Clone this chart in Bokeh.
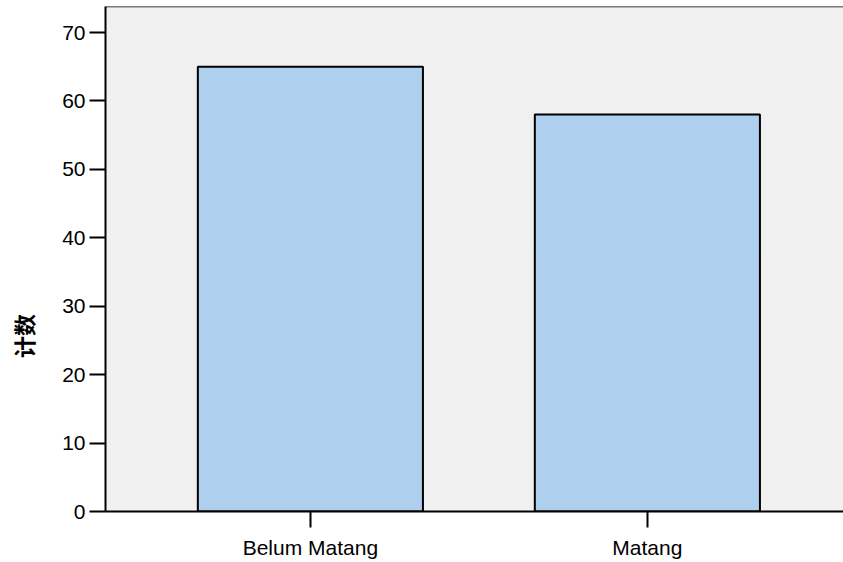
import math
from bokeh.plotting import figure
from bokeh.models import FixedTicker, Span
from bokeh.embed import file_html
from bokeh.resources import INLINE

categories = ["Belum Matang", "Matang"]
counts = [65, 58]
y_ticks = [0, 10, 20, 30, 40, 50, 60, 70]
y_label = "计数"

xs = list(range(len(categories)))

p = figure(width=843, height=562, output_backend="svg", toolbar_location=None,
           x_range=(-0.608, 1.582), y_range=(0, 73.8),
           min_border_left=105, min_border_right=0, min_border_top=6, min_border_bottom=51)
p.background_fill_color = "#f0f0f0"
p.border_fill_color = "white"
p.outline_line_color = None
p.grid.visible = False

p.vbar(x=xs, top=counts, width=0.668, bottom=0, fill_color="#aecfee",
       line_color="black", line_width=2)

p.add_layout(Span(location=73.8, dimension="width", line_color="black", line_width=1.5))

p.xaxis.ticker = FixedTicker(ticks=xs)
p.xaxis.major_label_overrides = {i: c for i, c in enumerate(categories)}
p.yaxis.ticker = FixedTicker(ticks=y_ticks)

for ax in (p.xaxis[0], p.yaxis[0]):
    ax.axis_line_color = "black"
    ax.axis_line_width = 2
    ax.major_tick_line_color = "black"
    ax.major_tick_line_width = 2
    ax.major_tick_out = 16
    ax.major_tick_in = 0
    ax.minor_tick_line_color = None
    ax.major_label_text_font = "Liberation Sans"
    ax.major_label_text_font_size = "21px"
    ax.major_label_text_color = "black"
p.yaxis.major_label_standoff = 4
p.xaxis.major_label_standoff = 8

# label sits below the vertical centre in the reference: pad its top end
p.yaxis.axis_label = y_label + "\u3000" * 7
p.yaxis.axis_label_text_font = "Noto Sans CJK SC"
p.yaxis.axis_label_text_font_size = "22px"
p.yaxis.axis_label_text_font_style = "bold"
p.yaxis.axis_label_text_color = "black"
p.yaxis.axis_label_standoff = 20

open("out.html", "w").write(file_html(p, INLINE))
